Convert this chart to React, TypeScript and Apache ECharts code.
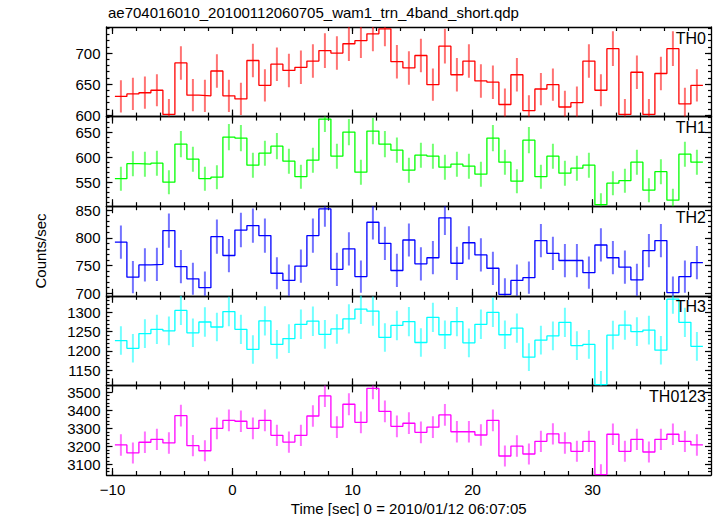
import React, { useEffect, useRef } from "react";
import * as echarts from "echarts";

const TITLE = "ae704016010_20100112060705_wam1_trn_4band_short.qdp";
const X_TITLE = "Time [sec] 0 = 2010/01/12 06:07:05";
const Y_TITLE = "Counts/sec";

const times = [
  -9.3, -8.3, -7.3, -6.3, -5.3, -4.3, -3.3, -2.3, -1.3, -0.3,
  0.7, 1.7, 2.7, 3.7, 4.7, 5.7, 6.7, 7.7, 8.7, 9.7,
  10.7, 11.7, 12.7, 13.7, 14.7, 15.7, 16.7, 17.7, 18.7, 19.7,
  20.7, 21.7, 22.7, 23.7, 24.7, 25.7, 26.7, 27.7, 28.7, 29.7,
  30.7, 31.7, 32.7, 33.7, 34.7, 35.7, 36.7, 37.7, 38.7,
];

const th0 = [630, 634, 636, 640, 601, 684, 632, 631, 671, 631, 626, 688, 648, 682, 672, 677, 687, 704, 700, 715, 720, 731, 739, 686, 676, 696, 649, 711, 665, 687, 655, 653, 617, 665, 607, 642, 649, 613, 620, 687, 640, 707, 601, 669, 601, 667, 707, 618, 648];
const th0Err = [26, 26, 26, 26, 25, 27, 26, 26, 27, 26, 26, 27, 26, 27, 27, 27, 27, 28, 27, 28, 28, 28, 28, 27, 27, 27, 26, 28, 27, 27, 27, 27, 26, 27, 25, 26, 26, 26, 26, 27, 26, 28, 25, 27, 25, 27, 28, 26, 26];

const th1 = [558, 588, 587, 589, 551, 627, 597, 558, 561, 641, 639, 585, 609, 623, 593, 562, 595, 677, 603, 651, 571, 653, 627, 615, 575, 605, 603, 581, 587, 583, 567, 639, 591, 553, 635, 562, 603, 569, 579, 585, 506, 549, 554, 591, 535, 572, 515, 607, 591];
const th1Err = [24, 25, 25, 25, 24, 26, 25, 24, 24, 26, 26, 25, 25, 26, 25, 24, 25, 26, 25, 26, 25, 26, 26, 25, 25, 25, 25, 25, 25, 25, 25, 26, 25, 24, 26, 24, 25, 25, 25, 25, 23, 24, 24, 25, 24, 25, 23, 25, 25];

const th2 = [792, 729, 751, 752, 813, 748, 726, 710, 802, 768, 814, 822, 804, 736, 723, 749, 804, 852, 743, 780, 730, 828, 790, 741, 796, 753, 764, 836, 754, 791, 769, 745, 698, 723, 728, 795, 772, 759, 759, 737, 787, 764, 747, 724, 777, 795, 701, 730, 755];
const th2Err = [30, 29, 30, 30, 31, 30, 29, 29, 31, 30, 31, 31, 31, 29, 29, 30, 31, 32, 30, 30, 29, 31, 30, 30, 30, 30, 30, 31, 30, 30, 30, 30, 29, 29, 29, 30, 30, 30, 30, 29, 30, 30, 30, 29, 30, 30, 29, 29, 30];

const th3 = [1227, 1207, 1245, 1256, 1252, 1305, 1247, 1275, 1262, 1302, 1256, 1204, 1278, 1217, 1232, 1269, 1277, 1243, 1257, 1283, 1308, 1303, 1235, 1266, 1276, 1222, 1287, 1242, 1276, 1221, 1269, 1300, 1242, 1259, 1184, 1228, 1239, 1274, 1214, 1217, 1113, 1241, 1267, 1250, 1254, 1202, 1334, 1274, 1212];
const th3Err = [37, 37, 37, 38, 37, 38, 37, 38, 37, 38, 38, 37, 38, 37, 37, 38, 38, 37, 38, 38, 38, 38, 37, 38, 38, 37, 38, 37, 38, 37, 38, 38, 37, 38, 36, 37, 37, 38, 37, 37, 35, 37, 38, 37, 37, 37, 38, 38, 37];

const th0123 = [3208, 3164, 3223, 3239, 3219, 3370, 3204, 3176, 3300, 3344, 3339, 3300, 3344, 3261, 3224, 3261, 3368, 3479, 3306, 3433, 3333, 3521, 3394, 3311, 3328, 3278, 3306, 3374, 3281, 3281, 3263, 3344, 3147, 3202, 3158, 3228, 3269, 3219, 3173, 3228, 3044, 3267, 3173, 3239, 3169, 3239, 3267, 3228, 3208];
const th0123Err = [59, 58, 59, 59, 59, 60, 59, 58, 60, 60, 60, 60, 60, 59, 59, 59, 60, 61, 60, 61, 60, 61, 60, 60, 60, 60, 60, 60, 60, 60, 59, 60, 58, 59, 58, 59, 59, 59, 58, 59, 57, 59, 58, 59, 58, 59, 59, 59, 59];

const xMajorTicks = [-10, 0, 10, 20, 30];
const xMinorTicks = [-10, -8, -6, -4, -2, 0, 2, 4, 6, 8, 10, 12, 14, 16, 18, 20, 22, 24, 26, 28, 30, 32, 34, 36, 38];

const th0Ticks = [600, 650, 700];
const th1Ticks = [550, 600, 650];
const th2Ticks = [700, 750, 800, 850];
const th3Ticks = [1150, 1200, 1250, 1300];
const th0123Ticks = [3100, 3200, 3300, 3400, 3500];

const panelNames = ["TH0", "TH1", "TH2", "TH3", "TH0123"];

function range(a: number, b: number, s: number) {
  const out: number[] = [];
  for (let v = a; v <= b + 1e-9; v += s) out.push(v);
  return out;
}

const X_MIN = -10.5;
const X_MAX = 39.875;
const GRID_LEFT = 106.5;
const GRID_WIDTH = 604.5;
const GRID_TOP = 27;
const PANEL_H = 89.6;
const FONT = "'Liberation Sans', Arial, Helvetica, sans-serif";

const panels = [
  { name: panelNames[0], values: th0, errors: th0Err, color: "#ff0000", min: 597.5, max: 742, ticks: th0Ticks, minor: range(600, 740, 10) },
  { name: panelNames[1], values: th1, errors: th1Err, color: "#00ff00", min: 503, max: 682, ticks: th1Ticks, minor: range(510, 680, 10) },
  { name: panelNames[2], values: th2, errors: th2Err, color: "#0000ff", min: 695.3, max: 857, ticks: th2Ticks, minor: range(700, 850, 10) },
  { name: panelNames[3], values: th3, errors: th3Err, color: "#00ffff", min: 1111, max: 1342.7, ticks: th3Ticks, minor: range(1120, 1340, 10) },
  { name: panelNames[4], values: th0123, errors: th0123Err, color: "#ff00ff", min: 3042, max: 3537, ticks: th0123Ticks, minor: range(3060, 3520, 20) },
];

function buildOption() {
  const grid: any[] = [];
  const xAxis: any[] = [];
  const yAxis: any[] = [];
  const series: any[] = [];
  const graphic: any[] = [];

  panels.forEach((p, i) => {
    const top = GRID_TOP + i * PANEL_H;
    grid.push({ left: GRID_LEFT, width: GRID_WIDTH, top, height: PANEL_H, containLabel: false });
    const isBottom = i === panels.length - 1;
    const axisLine = { show: true, onZero: false, lineStyle: { color: "#000", width: 1.3 } };
    const noLine = { show: false, onZero: false };
    const baseX = { type: "value", gridIndex: i, min: X_MIN, max: X_MAX, splitLine: { show: false } };
    xAxis.push({
      ...baseX, position: "bottom", axisLine,
      axisTick: { show: true, inside: true, length: 7, customValues: xMajorTicks, lineStyle: { color: "#000", width: 1.2 } },
      axisLabel: isBottom
        ? { show: true, customValues: xMajorTicks, margin: 7, fontSize: 15, fontFamily: FONT, color: "#000", formatter: (v: number) => String(v).replace("-", "\u2212") }
        : { show: false },
    });
    xAxis.push({
      ...baseX, position: "bottom", axisLine: noLine,
      axisTick: { show: true, inside: true, length: 4, customValues: xMinorTicks, lineStyle: { color: "#000", width: 1.2 } },
      axisLabel: { show: false },
    });
    xAxis.push({
      ...baseX, position: "top", axisLine,
      axisTick: { show: true, inside: true, length: 7, customValues: xMajorTicks, lineStyle: { color: "#000", width: 1.2 } },
      axisLabel: { show: false },
    });
    xAxis.push({
      ...baseX, position: "top", axisLine: noLine,
      axisTick: { show: true, inside: true, length: 4, customValues: xMinorTicks, lineStyle: { color: "#000", width: 1.2 } },
      axisLabel: { show: false },
    });

    const baseY = { type: "value", gridIndex: i, min: p.min, max: p.max, splitLine: { show: false } };
    yAxis.push({
      ...baseY, position: "left", axisLine,
      axisTick: { show: true, inside: true, length: 6, customValues: p.ticks, lineStyle: { color: "#000", width: 1.2 } },
      axisLabel: { show: true, customValues: p.ticks, margin: 6, fontSize: 15, fontFamily: FONT, color: "#000", formatter: (v: number) => String(v) },
    });
    yAxis.push({
      ...baseY, position: "left", axisLine: noLine,
      axisTick: { show: true, inside: true, length: 3, customValues: p.minor, lineStyle: { color: "#000", width: 1.2 } },
      axisLabel: { show: false },
    });
    yAxis.push({
      ...baseY, position: "right", axisLine,
      axisTick: { show: true, inside: true, length: 6, customValues: p.ticks, lineStyle: { color: "#000", width: 1.2 } },
      axisLabel: { show: false },
    });
    yAxis.push({
      ...baseY, position: "right", axisLine: noLine,
      axisTick: { show: true, inside: true, length: 3, customValues: p.minor, lineStyle: { color: "#000", width: 1.2 } },
      axisLabel: { show: false },
    });

    const stepData: number[][] = [];
    times.forEach((t, k) => {
      stepData.push([t - 0.5, p.values[k]]);
      stepData.push([t + 0.5, p.values[k]]);
    });
    series.push({
      type: "line",
      xAxisIndex: i * 4,
      yAxisIndex: i * 4,
      data: stepData,
      showSymbol: false,
      symbol: "none",
      clip: true,
      lineStyle: { color: p.color, width: 1.3 },
      z: 3,
    });
    const errData = times.map((t, k) => [t, p.values[k], p.errors[k]]);
    const color = p.color;
    series.push({
      type: "custom",
      xAxisIndex: i * 4,
      yAxisIndex: i * 4,
      data: errData,
      clip: true,
      encode: { x: 0, y: 1 },
      renderItem: (_params: any, api: any) => {
        const t = api.value(0);
        const v = api.value(1);
        const e = api.value(2);
        const a = api.coord([t, v - e]);
        const b = api.coord([t, v + e]);
        return {
          type: "line",
          shape: { x1: a[0], y1: a[1], x2: b[0], y2: b[1] },
          style: { stroke: color, lineWidth: 2, opacity: 0.55 },
        };
      },
      z: 2,
    });

    graphic.push({
      type: "text",
      right: 717 - 706,
      top: top + 3,
      style: { text: p.name, font: `16px ${FONT}`, fill: "#000" },
      z: 10,
    });
  });

  graphic.push({
    type: "text",
    left: 108,
    top: 5,
    style: { text: TITLE, font: `15px ${FONT}`, fill: "#000" },
  });
  graphic.push({
    type: "text",
    x: GRID_LEFT + GRID_WIDTH / 2,
    y: 508,
    style: { text: X_TITLE, font: `15px ${FONT}`, fill: "#000", align: "center", verticalAlign: "middle" },
  });
  graphic.push({
    type: "text",
    x: 40,
    y: GRID_TOP + 2.5 * PANEL_H,
    rotation: Math.PI / 2,
    style: { text: Y_TITLE, font: `15px ${FONT}`, fill: "#000", align: "center", verticalAlign: "middle" },
  });

  return { animation: false, backgroundColor: "#fff", grid, xAxis, yAxis, series, graphic };
}

export default function App() {
  const ref = useRef<HTMLDivElement>(null);
  useEffect(() => {
    if (!ref.current) return;
    const chart = echarts.init(ref.current, undefined, { renderer: "svg" });
    chart.setOption(buildOption() as any);
    return () => chart.dispose();
  }, []);
  return <div ref={ref} style={{ position: "fixed", left: 0, top: 0, width: 717, height: 516, background: "#fff" }} />;
}
